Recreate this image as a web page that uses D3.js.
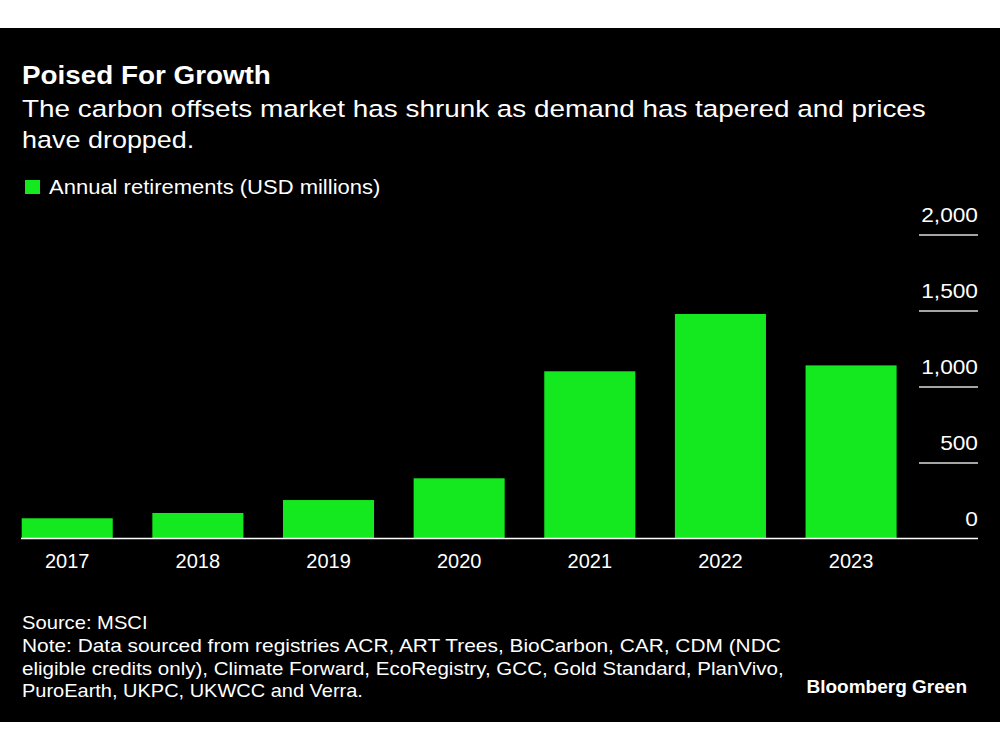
<!DOCTYPE html>
<html><head><meta charset="utf-8">
<script src="https://cdn.jsdelivr.net/npm/d3@7"></script>
<style>
html,body{margin:0;padding:0;background:#fff;}
svg{display:block;}
text{font-family:"Liberation Sans",Arial,Helvetica,sans-serif;fill:#fff;}
</style></head>
<body>
<script>
const years = ["2017","2018","2019","2020","2021","2022","2023"];
const retirements = [133, 168, 253, 396, 1100, 1477, 1139];
const yTicks = [0, 500, 1000, 1500, 2000];
const yTickLabels = ["0","500","1,000","1,500","2,000"];
const title = "Poised For Growth";
const subtitleLines = ["The carbon offsets market has shrunk as demand has tapered and prices","have dropped."];
const legendLabel = "Annual retirements (USD millions)";
const footerLines = ["Source: MSCI","Note: Data sourced from registries ACR, ART Trees, BioCarbon, CAR, CDM (NDC","eligible credits only), Climate Forward, EcoRegistry, GCC, Gold Standard, PlanVivo,","PuroEarth, UKPC, UKWCC and Verra."];
const brand = "Bloomberg Green";

const W = 1000, H = 750;
const green = "#14E81E";
const svg = d3.select("body").append("svg").attr("width", W).attr("height", H);
svg.append("rect").attr("x",0).attr("y",28).attr("width",W).attr("height",694).attr("fill","#000");

// The reference typeface is wider than Arial; stretch text to the widths seen in the reference.
function widen(sel, ratio){
  sel.each(function(){
    const w = this.getComputedTextLength();
    d3.select(this).attr("textLength", w*ratio).attr("lengthAdjust","spacingAndGlyphs");
  });
  return sel;
}

// Titles
widen(svg.append("text").attr("x",22).attr("y",84).attr("font-size",26).attr("font-weight","bold").text(title), 1.07);
const subRatio = [1.137, 1.10];
subtitleLines.forEach((s,i)=>{
  widen(svg.append("text").attr("x",22).attr("y",117+i*31).attr("font-size",24.5).text(s), subRatio[i]);
});
// Legend
svg.append("rect").attr("x",25).attr("y",180).attr("width",15).attr("height",14).attr("fill",green);
widen(svg.append("text").attr("x",49).attr("y",194).attr("font-size",20).text(legendLabel), 1.10);

// Scales
const x = d3.scaleBand().domain(years).range([21.7, 896.6]).paddingInner(0.303).paddingOuter(0);
const y = d3.scaleLinear().domain([0, 2000]).range([538.5, 234.5]);

// Bars
svg.append("g").selectAll("rect").data(years).join("rect")
  .attr("x", d=>x(d)).attr("width", x.bandwidth())
  .attr("y", (d,i)=>y(retirements[i])).attr("height", (d,i)=>y(0)-y(retirements[i]))
  .attr("fill", green);

// Y axis (right side): gridlines and labels
const yAxis = d3.axisRight(y).tickValues(yTicks).tickFormat((d,i)=>yTickLabels[i]).tickSize(0);
const gy = svg.append("g").call(yAxis);
gy.select(".domain").remove();
gy.selectAll(".tick text").attr("x", 978).attr("dy", -13).attr("text-anchor","end")
  .attr("font-size", 21).attr("fill","#fff").attr("font-family","Liberation Sans, Arial, sans-serif");
widen(gy.selectAll(".tick text"), 1.08);
gy.selectAll(".tick").filter(d=>d!==0).append("line")
  .attr("x1", 919).attr("x2", 978).attr("stroke","#ddd").attr("stroke-width",1.5);

// Baseline
svg.append("line").attr("x1",21).attr("x2",978).attr("y1",y(0)).attr("y2",y(0)).attr("stroke","#fff").attr("stroke-width",1.5);

// X axis labels
const xAxis = d3.axisBottom(x).tickSize(0);
const gx = svg.append("g").attr("transform",`translate(0,${y(0)})`).call(xAxis);
gx.select(".domain").remove();
gx.selectAll(".tick text").attr("y", 29).attr("dy", 0).attr("font-size", 20).attr("fill","#fff")
  .attr("font-family","Liberation Sans, Arial, sans-serif");

// Footer
const fy = [629, 652, 675, 697];
const footRatio = [1.09, 1.128, 1.11, 1.08];
footerLines.forEach((s,i)=>{
  widen(svg.append("text").attr("x",22).attr("y",fy[i]).attr("font-size",18.5).text(s), footRatio[i]);
});
svg.append("text").attr("x",967).attr("y",693).attr("text-anchor","end").attr("font-size",19).attr("font-weight","bold").text(brand);
</script>
</body></html>
